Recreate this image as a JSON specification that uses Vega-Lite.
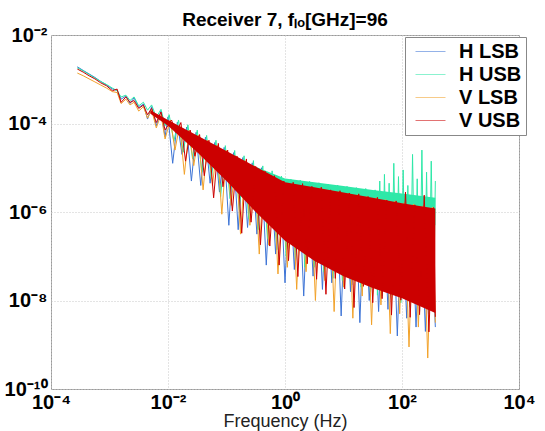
{
"$schema": "https://vega.github.io/schema/vega-lite/v6.json",
"width": 468, "height": 354,
"autosize": "none",
"padding": {"left": 51, "top": 35, "right": 26, "bottom": 42},
"background": "white",
"title": {"text": "Receiver 7, fₗₒ[GHz]=96", "font": "Liberation Sans", "fontSize": 19, "fontWeight": "bold", "color": "#000", "offset": -5, "anchor": "middle"},
"config": {"view": {"stroke": "#9a9a9a", "strokeWidth": 1}},
"datasets": {
"lines": [
{"s":"H LSB","f":2.82e-4,"p":1.91e-3},{"s":"H LSB","f":3.55e-4,"p":1.58e-3},{"s":"H LSB","f":4.47e-4,"p":1.32e-3},{"s":"H LSB","f":5.62e-4,"p":1.10e-3},{"s":"H LSB","f":7.08e-4,"p":8.91e-4},{"s":"H LSB","f":8.91e-4,"p":7.41e-4},{"s":"H LSB","f":1.12e-3,"p":6.03e-4},{"s":"H LSB","f":1.35e-3,"p":5.62e-4},{"s":"H LSB","f":1.58e-3,"p":3.55e-4},{"s":"H LSB","f":1.91e-3,"p":4.17e-4},{"s":"H LSB","f":2.24e-3,"p":2.82e-4},{"s":"H LSB","f":2.63e-3,"p":3.80e-4},{"s":"H LSB","f":3.16e-3,"p":2.29e-4},{"s":"H LSB","f":3.80e-3,"p":2.75e-4},{"s":"H LSB","f":4.47e-3,"p":1.26e-4},{"s":"H LSB","f":5.25e-3,"p":2.40e-4},{"s":"H LSB","f":6.31e-3,"p":8.91e-5},{"s":"H LSB","f":7.59e-3,"p":1.91e-4},{"s":"H LSB","f":8.91e-3,"p":5.01e-5},
{"s":"H LSB","f":0.01,"p":1.41e-4},{"s":"H LSB","f":0.01202,"p":1.26e-5},{"s":"H LSB","f":0.01445,"p":1.07e-4},{"s":"H LSB","f":0.01738,"p":2.00e-5},{"s":"H LSB","f":0.02089,"p":8.32e-5},{"s":"H LSB","f":0.02512,"p":5.01e-6},{"s":"H LSB","f":0.03020,"p":6.31e-5},{"s":"H LSB","f":0.03631,"p":3.98e-6},{"s":"H LSB","f":0.04365,"p":4.90e-5},{"s":"H LSB","f":0.05248,"p":4.47e-6},{"s":"H LSB","f":0.06310,"p":3.72e-5},{"s":"H LSB","f":0.07586,"p":2.82e-6},{"s":"H LSB","f":0.09120,"p":2.88e-5},{"s":"H LSB","f":0.1096,"p":5.01e-7},{"s":"H LSB","f":0.1318,"p":2.19e-5},{"s":"H LSB","f":0.1585,"p":3.98e-7},{"s":"H LSB","f":0.1905,"p":1.70e-5},{"s":"H LSB","f":0.2291,"p":4.47e-7},{"s":"H LSB","f":0.2754,"p":1.29e-5},{"s":"H LSB","f":0.3311,"p":3.16e-7},{"s":"H LSB","f":0.3981,"p":1.00e-5},{"s":"H LSB","f":0.4786,"p":6.31e-8},{"s":"H LSB","f":0.5754,"p":7.59e-6},{"s":"H LSB","f":0.6918,"p":1.12e-7},{"s":"H LSB","f":0.8318,"p":5.75e-6},
{"s":"H LSB","f":1.000,"p":2.51e-8},{"s":"H LSB","f":1.202,"p":4.47e-6},{"s":"H LSB","f":1.445,"p":5.01e-8},{"s":"H LSB","f":1.738,"p":4.17e-6},{"s":"H LSB","f":2.089,"p":1.26e-8},{"s":"H LSB","f":2.512,"p":3.80e-6},{"s":"H LSB","f":3.020,"p":3.55e-8},{"s":"H LSB","f":3.631,"p":3.55e-6},{"s":"H LSB","f":4.365,"p":1.78e-8},{"s":"H LSB","f":5.248,"p":3.24e-6},{"s":"H LSB","f":6.310,"p":2.51e-8},{"s":"H LSB","f":7.586,"p":3.02e-6},{"s":"H LSB","f":9.120,"p":4.47e-9},{"s":"H LSB","f":10.96,"p":2.75e-6},{"s":"H LSB","f":13.18,"p":1.58e-8},{"s":"H LSB","f":15.85,"p":2.57e-6},{"s":"H LSB","f":19.05,"p":3.16e-9},{"s":"H LSB","f":22.91,"p":2.34e-6},{"s":"H LSB","f":27.54,"p":1.00e-8},{"s":"H LSB","f":33.11,"p":2.19e-6},{"s":"H LSB","f":39.81,"p":5.62e-9},{"s":"H LSB","f":47.86,"p":2.00e-6},{"s":"H LSB","f":57.54,"p":6.31e-9},{"s":"H LSB","f":69.18,"p":1.86e-6},{"s":"H LSB","f":83.18,"p":1.58e-9},{"s":"H LSB","f":100.0,"p":1.70e-6},{"s":"H LSB","f":120.2,"p":3.98e-9},{"s":"H LSB","f":144.5,"p":1.58e-6},{"s":"H LSB","f":173.8,"p":2.51e-9},{"s":"H LSB","f":208.9,"p":1.45e-6},{"s":"H LSB","f":251.2,"p":2.00e-9},{"s":"H LSB","f":302.0,"p":1.38e-6},{"s":"H LSB","f":371.5,"p":2.51e-9},

{"s":"H USB","f":2.82e-4,"p":1.82e-3},{"s":"H USB","f":3.55e-4,"p":1.55e-3},{"s":"H USB","f":4.47e-4,"p":1.29e-3},{"s":"H USB","f":5.62e-4,"p":1.07e-3},{"s":"H USB","f":7.08e-4,"p":8.91e-4},{"s":"H USB","f":8.91e-4,"p":7.59e-4},{"s":"H USB","f":1.12e-3,"p":6.31e-4},{"s":"H USB","f":1.35e-3,"p":5.50e-4},{"s":"H USB","f":1.58e-3,"p":3.98e-4},{"s":"H USB","f":1.91e-3,"p":4.37e-4},{"s":"H USB","f":2.24e-3,"p":3.31e-4},{"s":"H USB","f":2.63e-3,"p":3.98e-4},{"s":"H USB","f":3.16e-3,"p":2.51e-4},{"s":"H USB","f":3.80e-3,"p":3.02e-4},{"s":"H USB","f":4.47e-3,"p":2.00e-4},{"s":"H USB","f":5.25e-3,"p":2.63e-4},{"s":"H USB","f":6.31e-3,"p":1.38e-4},{"s":"H USB","f":7.59e-3,"p":2.09e-4},{"s":"H USB","f":8.91e-3,"p":8.91e-5},
{"s":"H USB","f":0.01047,"p":1.58e-4},{"s":"H USB","f":0.01259,"p":3.98e-5},{"s":"H USB","f":0.01514,"p":1.20e-4},{"s":"H USB","f":0.01820,"p":2.24e-5},{"s":"H USB","f":0.02188,"p":9.33e-5},{"s":"H USB","f":0.02630,"p":1.58e-5},{"s":"H USB","f":0.03162,"p":7.08e-5},{"s":"H USB","f":0.03802,"p":7.94e-6},{"s":"H USB","f":0.04571,"p":5.37e-5},{"s":"H USB","f":0.05495,"p":5.62e-6},{"s":"H USB","f":0.06607,"p":4.17e-5},{"s":"H USB","f":0.07943,"p":2.24e-6},{"s":"H USB","f":0.09550,"p":3.16e-5},{"s":"H USB","f":0.1148,"p":2.00e-6},{"s":"H USB","f":0.1380,"p":2.45e-5},{"s":"H USB","f":0.1660,"p":1.12e-6},{"s":"H USB","f":0.1995,"p":1.86e-5},{"s":"H USB","f":0.2399,"p":7.08e-7},{"s":"H USB","f":0.2884,"p":1.45e-5},{"s":"H USB","f":0.3467,"p":3.98e-7},{"s":"H USB","f":0.4169,"p":1.10e-5},{"s":"H USB","f":0.5012,"p":2.51e-7},{"s":"H USB","f":0.6026,"p":8.51e-6},{"s":"H USB","f":0.7244,"p":1.41e-7},{"s":"H USB","f":0.8710,"p":6.46e-6},
{"s":"H USB","f":1.047,"p":1.00e-7},{"s":"H USB","f":1.259,"p":5.50e-6},{"s":"H USB","f":1.514,"p":7.94e-8},{"s":"H USB","f":1.820,"p":5.25e-6},{"s":"H USB","f":2.188,"p":5.62e-8},{"s":"H USB","f":2.630,"p":4.90e-6},{"s":"H USB","f":3.162,"p":5.62e-8},{"s":"H USB","f":3.802,"p":4.57e-6},{"s":"H USB","f":4.571,"p":4.47e-8},{"s":"H USB","f":5.495,"p":4.27e-6},{"s":"H USB","f":6.607,"p":3.16e-8},{"s":"H USB","f":7.943,"p":4.07e-6},{"s":"H USB","f":9.550,"p":2.82e-8},{"s":"H USB","f":11.48,"p":3.80e-6},{"s":"H USB","f":13.80,"p":2.24e-8},{"s":"H USB","f":16.60,"p":3.55e-6},{"s":"H USB","f":19.95,"p":2.00e-8},{"s":"H USB","f":23.99,"p":3.39e-6},{"s":"H USB","f":28.84,"p":1.58e-8},{"s":"H USB","f":34.67,"p":3.16e-6},
{"s":"H USB","f":38.02,"p":1.32e-8},{"s":"H USB","f":41.69,"p":5.01e-6},{"s":"H USB","f":45.71,"p":1.26e-8},{"s":"H USB","f":50.12,"p":7.08e-6},{"s":"H USB","f":54.95,"p":2.51e-8},{"s":"H USB","f":60.26,"p":4.47e-6},{"s":"H USB","f":66.07,"p":1.12e-8},{"s":"H USB","f":72.44,"p":1.26e-5},{"s":"H USB","f":79.43,"p":2.00e-8},{"s":"H USB","f":87.10,"p":6.31e-6},{"s":"H USB","f":95.50,"p":8.91e-9},{"s":"H USB","f":104.7,"p":8.91e-6},{"s":"H USB","f":114.8,"p":1.58e-8},{"s":"H USB","f":125.9,"p":3.98e-6},{"s":"H USB","f":138.0,"p":7.08e-9},{"s":"H USB","f":151.4,"p":2.00e-5},{"s":"H USB","f":166.0,"p":1.26e-8},{"s":"H USB","f":182.0,"p":5.62e-6},{"s":"H USB","f":199.5,"p":5.62e-9},{"s":"H USB","f":218.8,"p":2.51e-5},{"s":"H USB","f":239.9,"p":1.00e-8},{"s":"H USB","f":263.0,"p":7.94e-6},{"s":"H USB","f":288.4,"p":5.01e-9},{"s":"H USB","f":316.2,"p":1.41e-5},{"s":"H USB","f":346.7,"p":7.94e-9},{"s":"H USB","f":371.5,"p":5.01e-6},

{"s":"V LSB","f":2.82e-4,"p":1.38e-3},{"s":"V LSB","f":3.55e-4,"p":1.20e-3},{"s":"V LSB","f":4.47e-4,"p":1.02e-3},{"s":"V LSB","f":5.62e-4,"p":8.71e-4},{"s":"V LSB","f":7.08e-4,"p":7.41e-4},{"s":"V LSB","f":8.91e-4,"p":6.31e-4},{"s":"V LSB","f":1.12e-3,"p":5.25e-4},{"s":"V LSB","f":1.35e-3,"p":5.01e-4},{"s":"V LSB","f":1.58e-3,"p":2.82e-4},{"s":"V LSB","f":1.91e-3,"p":3.55e-4},{"s":"V LSB","f":2.24e-3,"p":2.63e-4},{"s":"V LSB","f":2.63e-3,"p":3.02e-4},{"s":"V LSB","f":3.16e-3,"p":1.91e-4},{"s":"V LSB","f":3.80e-3,"p":2.40e-4},{"s":"V LSB","f":4.47e-3,"p":1.32e-4},{"s":"V LSB","f":5.25e-3,"p":2.00e-4},{"s":"V LSB","f":6.31e-3,"p":7.94e-5},{"s":"V LSB","f":7.59e-3,"p":1.58e-4},{"s":"V LSB","f":8.91e-3,"p":4.47e-5},
{"s":"V LSB","f":0.01096,"p":1.20e-4},{"s":"V LSB","f":0.01318,"p":2.51e-5},{"s":"V LSB","f":0.01585,"p":9.33e-5},{"s":"V LSB","f":0.01905,"p":7.08e-6},{"s":"V LSB","f":0.02291,"p":7.08e-5},{"s":"V LSB","f":0.02754,"p":1.12e-5},{"s":"V LSB","f":0.03311,"p":5.50e-5},{"s":"V LSB","f":0.03981,"p":3.16e-6},{"s":"V LSB","f":0.04786,"p":4.17e-5},{"s":"V LSB","f":0.05754,"p":3.98e-6},{"s":"V LSB","f":0.06918,"p":3.24e-5},{"s":"V LSB","f":0.08318,"p":8.91e-7},{"s":"V LSB","f":0.1000,"p":2.45e-5},{"s":"V LSB","f":0.1202,"p":1.41e-6},{"s":"V LSB","f":0.1445,"p":1.86e-5},{"s":"V LSB","f":0.1738,"p":3.16e-7},{"s":"V LSB","f":0.2089,"p":1.45e-5},{"s":"V LSB","f":0.2512,"p":5.01e-7},{"s":"V LSB","f":0.3020,"p":1.10e-5},{"s":"V LSB","f":0.3631,"p":1.12e-7},{"s":"V LSB","f":0.4365,"p":8.51e-6},{"s":"V LSB","f":0.5248,"p":1.78e-7},{"s":"V LSB","f":0.6310,"p":6.46e-6},{"s":"V LSB","f":0.7586,"p":3.98e-8},{"s":"V LSB","f":0.9120,"p":5.01e-6},
{"s":"V LSB","f":1.096,"p":5.62e-8},{"s":"V LSB","f":1.318,"p":4.27e-6},{"s":"V LSB","f":1.585,"p":1.78e-8},{"s":"V LSB","f":1.905,"p":3.98e-6},{"s":"V LSB","f":2.291,"p":4.47e-8},{"s":"V LSB","f":2.754,"p":3.63e-6},{"s":"V LSB","f":3.311,"p":1.00e-8},{"s":"V LSB","f":3.981,"p":3.39e-6},{"s":"V LSB","f":4.786,"p":2.82e-8},{"s":"V LSB","f":5.754,"p":3.09e-6},{"s":"V LSB","f":6.918,"p":5.62e-9},{"s":"V LSB","f":8.318,"p":2.88e-6},{"s":"V LSB","f":10.00,"p":2.00e-8},{"s":"V LSB","f":12.02,"p":2.63e-6},{"s":"V LSB","f":14.45,"p":3.98e-9},{"s":"V LSB","f":17.38,"p":2.45e-6},{"s":"V LSB","f":20.89,"p":1.26e-8},{"s":"V LSB","f":25.12,"p":2.24e-6},{"s":"V LSB","f":30.20,"p":2.82e-9},{"s":"V LSB","f":36.31,"p":2.09e-6},{"s":"V LSB","f":43.65,"p":7.94e-9},{"s":"V LSB","f":52.48,"p":1.91e-6},{"s":"V LSB","f":63.10,"p":1.78e-9},{"s":"V LSB","f":75.86,"p":1.78e-6},{"s":"V LSB","f":91.20,"p":5.01e-9},{"s":"V LSB","f":109.6,"p":1.62e-6},{"s":"V LSB","f":131.8,"p":8.91e-10},{"s":"V LSB","f":158.5,"p":1.51e-6},{"s":"V LSB","f":190.5,"p":2.51e-9},{"s":"V LSB","f":229.1,"p":1.38e-6},{"s":"V LSB","f":275.4,"p":5.01e-10},{"s":"V LSB","f":331.1,"p":1.29e-6},{"s":"V LSB","f":371.5,"p":3.16e-9},

{"s":"V USB","f":2.82e-4,"p":1.70e-3},{"s":"V USB","f":3.55e-4,"p":1.45e-3},{"s":"V USB","f":4.47e-4,"p":1.20e-3},{"s":"V USB","f":5.62e-4,"p":1.02e-3},{"s":"V USB","f":7.08e-4,"p":8.3e-4},{"s":"V USB","f":8.91e-4,"p":7.1e-4},{"s":"V USB","f":1.12e-3,"p":5.5e-4},{"s":"V USB","f":1.35e-3,"p":6.0e-4},{"s":"V USB","f":1.58e-3,"p":3.0e-4},{"s":"V USB","f":1.91e-3,"p":4.0e-4},{"s":"V USB","f":2.24e-3,"p":3.0e-4},{"s":"V USB","f":2.63e-3,"p":3.3e-4},{"s":"V USB","f":3.16e-3,"p":2.2e-4},{"s":"V USB","f":3.80e-3,"p":2.6e-4},{"s":"V USB","f":4.47e-3,"p":1.58e-4},{"s":"V USB","f":5.25e-3,"p":2.2e-4},{"s":"V USB","f":6.31e-3,"p":1.05e-4},{"s":"V USB","f":7.59e-3,"p":1.82e-4},{"s":"V USB","f":8.91e-3,"p":7.1e-5},
{"s":"V USB","f":0.01148,"p":1.20e-4},{"s":"V USB","f":0.01380,"p":6.17e-5},{"s":"V USB","f":0.01660,"p":1.05e-4},{"s":"V USB","f":0.01995,"p":1.41e-5},{"s":"V USB","f":0.02399,"p":7.08e-5},{"s":"V USB","f":0.02884,"p":1.82e-5},{"s":"V USB","f":0.03467,"p":5.62e-5},{"s":"V USB","f":0.04169,"p":6.61e-6},{"s":"V USB","f":0.05012,"p":4.17e-5},{"s":"V USB","f":0.06026,"p":2.09e-6},{"s":"V USB","f":0.07244,"p":3.55e-5},{"s":"V USB","f":0.08710,"p":3.72e-6},{"s":"V USB","f":0.1047,"p":2.51e-5},{"s":"V USB","f":0.1259,"p":1.05e-6},{"s":"V USB","f":0.1514,"p":1.82e-5},{"s":"V USB","f":0.1820,"p":3.31e-7},{"s":"V USB","f":0.2188,"p":1.58e-5},{"s":"V USB","f":0.2630,"p":5.89e-7},{"s":"V USB","f":0.3162,"p":1.07e-5},{"s":"V USB","f":0.3802,"p":1.82e-7},{"s":"V USB","f":0.4571,"p":8.32e-6},{"s":"V USB","f":0.5495,"p":1.70e-7},{"s":"V USB","f":0.6607,"p":6.61e-6},{"s":"V USB","f":0.7943,"p":6.31e-8},{"s":"V USB","f":0.9550,"p":5.01e-6},
{"s":"V USB","f":1.148,"p":7.94e-8},{"s":"V USB","f":1.380,"p":4.68e-6},{"s":"V USB","f":1.660,"p":3.47e-8},{"s":"V USB","f":1.995,"p":4.37e-6},{"s":"V USB","f":2.399,"p":6.76e-8},{"s":"V USB","f":2.884,"p":3.80e-6},{"s":"V USB","f":3.467,"p":3.02e-8},{"s":"V USB","f":4.169,"p":3.63e-6},{"s":"V USB","f":5.012,"p":1.38e-8},{"s":"V USB","f":6.026,"p":3.16e-6},{"s":"V USB","f":7.244,"p":3.16e-8},{"s":"V USB","f":8.710,"p":3.02e-6},{"s":"V USB","f":10.47,"p":1.82e-8},{"s":"V USB","f":12.59,"p":2.69e-6},{"s":"V USB","f":15.14,"p":6.92e-9},{"s":"V USB","f":18.20,"p":2.57e-6},{"s":"V USB","f":21.88,"p":2.09e-8},{"s":"V USB","f":26.30,"p":2.24e-6},{"s":"V USB","f":31.62,"p":8.91e-9},{"s":"V USB","f":38.02,"p":2.14e-6},{"s":"V USB","f":45.71,"p":1.10e-8},{"s":"V USB","f":54.95,"p":1.86e-6},{"s":"V USB","f":66.07,"p":4.68e-9},{"s":"V USB","f":79.43,"p":1.78e-6},{"s":"V USB","f":95.50,"p":1.02e-8},{"s":"V USB","f":114.8,"p":2.82e-6},{"s":"V USB","f":138.0,"p":4.17e-9},{"s":"V USB","f":166.0,"p":1.45e-6},{"s":"V USB","f":199.5,"p":4.79e-9},{"s":"V USB","f":239.9,"p":2.40e-6},{"s":"V USB","f":288.4,"p":1.95e-9},{"s":"V USB","f":346.7,"p":1.26e-6},{"s":"V USB","f":371.5,"p":4.27e-9}
],
"bands": [
{"s":"H USB","f":0.3162,"p":1.05e-5,"lo":5.0e-6},{"s":"H USB","f":1,"p":5.75e-6,"lo":2.0e-6},{"s":"H USB","f":3.162,"p":4.68e-6,"lo":1.5e-6},{"s":"H USB","f":10,"p":3.89e-6,"lo":1.2e-6},{"s":"H USB","f":31.62,"p":3.16e-6,"lo":9.0e-7},{"s":"H USB","f":100,"p":2.63e-6,"lo":7.0e-7},{"s":"H USB","f":371.5,"p":2.09e-6,"lo":5.0e-7},
{"s":"V USB","f":5.01e-3,"p":2.00e-4,"lo":1.66e-4},{"s":"V USB","f":0.01,"p":1.20e-4,"lo":8.91e-5},{"s":"V USB","f":0.03162,"p":5.37e-5,"lo":2.24e-5},{"s":"V USB","f":0.1,"p":2.40e-5,"lo":5.01e-6},{"s":"V USB","f":0.3162,"p":1.05e-5,"lo":1.00e-6},{"s":"V USB","f":1,"p":4.68e-6,"lo":2.24e-7},{"s":"V USB","f":3.162,"p":3.63e-6,"lo":7.94e-8},{"s":"V USB","f":10,"p":2.75e-6,"lo":3.55e-8},{"s":"V USB","f":31.62,"p":2.09e-6,"lo":1.91e-8},{"s":"V USB","f":100,"p":1.58e-6,"lo":1.12e-8},{"s":"V USB","f":371.5,"p":1.20e-6,"lo":5.25e-9}
]
},
"data": {"name": "lines"},
"encoding": {
"x": {"field": "f", "type": "quantitative",
 "scale": {"type": "log", "domain": [0.0001, 10000], "nice": false},
 "axis": {"title": "Frequency (Hz)", "values": [0.0001, 0.01, 1, 100, 10000],
  "labelExpr": "datum.value < 0.001 ? '10⁻⁴' : datum.value < 0.1 ? '10⁻²' : datum.value < 10 ? '10⁰' : datum.value < 1000 ? '10²' : '10⁴'",
  "labelFont": "Liberation Sans", "labelFontSize": 20, "labelFontWeight": "bold", "labelColor": "#000", "labelPadding": 3, "labelFlush": false, "labelOverlap": false,
  "titleFont": "Liberation Sans", "titleFontSize": 18, "titleFontWeight": "normal", "titleColor": "#222", "titlePadding": 0,
  "domain": false, "ticks": false, "grid": true, "gridColor": "#c8c8c8", "gridDash": [1, 2], "gridWidth": 1}},
"y": {"field": "p", "type": "quantitative",
 "scale": {"type": "log", "domain": [1e-10, 0.01], "nice": false},
 "axis": {"title": null, "values": [1e-10, 1e-8, 1e-6, 1e-4, 0.01],
  "labelExpr": "datum.value < 1e-9 ? '10⁻¹⁰' : datum.value < 1e-7 ? '10⁻⁸' : datum.value < 1e-5 ? '10⁻⁶' : datum.value < 1e-3 ? '10⁻⁴' : '10⁻²'",
  "labelFont": "Liberation Sans", "labelFontSize": 20, "labelFontWeight": "bold", "labelColor": "#000", "labelPadding": 4, "labelFlush": false, "labelOverlap": false,
  "domain": false, "ticks": false, "grid": true, "gridColor": "#c8c8c8", "gridDash": [1, 2], "gridWidth": 1}}
},
"layer": [
{"transform": [{"filter": "datum.s === 'H LSB'"}], "mark": {"type": "line", "strokeWidth": 1, "clip": true},
 "encoding": {"color": {"field": "s", "type": "nominal", "scale": {"domain": ["H LSB", "H USB", "V LSB", "V USB"], "range": ["#3d74d6", "#2ee8a8", "#f2a22a", "#cc0000"]},
  "legend": {"orient": "none", "legendX": 354, "legendY": 2, "title": null, "symbolType": "M-0.4,0H2.6", "symbolSize": 400, "symbolStrokeWidth": 1, "symbolOpacity": 0.55, "labelFont": "Liberation Sans", "labelFontSize": 20, "labelFontWeight": "bold", "labelColor": "#000", "padding": 4, "fillColor": "#fff", "strokeColor": "#888", "rowPadding": 2, "labelOffset": 29}}}},
{"data": {"name": "bands"}, "transform": [{"filter": "datum.s === 'H USB'"}], "mark": {"type": "area", "color": "#2ee8a8", "opacity": 1, "clip": true}, "encoding": {"y2": {"field": "lo"}}},
{"transform": [{"filter": "datum.s === 'H USB'"}], "mark": {"type": "line", "strokeWidth": 1, "clip": true},
 "encoding": {"color": {"field": "s", "type": "nominal", "scale": {"domain": ["H LSB", "H USB", "V LSB", "V USB"], "range": ["#3d74d6", "#2ee8a8", "#f2a22a", "#cc0000"]}}}},
{"transform": [{"filter": "datum.s === 'V LSB'"}], "mark": {"type": "line", "strokeWidth": 1, "clip": true},
 "encoding": {"color": {"field": "s", "type": "nominal", "scale": {"domain": ["H LSB", "H USB", "V LSB", "V USB"], "range": ["#3d74d6", "#2ee8a8", "#f2a22a", "#cc0000"]}}}},
{"data": {"name": "bands"}, "transform": [{"filter": "datum.s === 'V USB'"}], "mark": {"type": "area", "color": "#cc0000", "opacity": 1, "clip": true}, "encoding": {"y2": {"field": "lo"}}},
{"transform": [{"filter": "datum.s === 'V USB'"}], "mark": {"type": "line", "strokeWidth": 1, "clip": true},
 "encoding": {"color": {"field": "s", "type": "nominal", "scale": {"domain": ["H LSB", "H USB", "V LSB", "V USB"], "range": ["#3d74d6", "#2ee8a8", "#f2a22a", "#cc0000"]}}}}
]
}
